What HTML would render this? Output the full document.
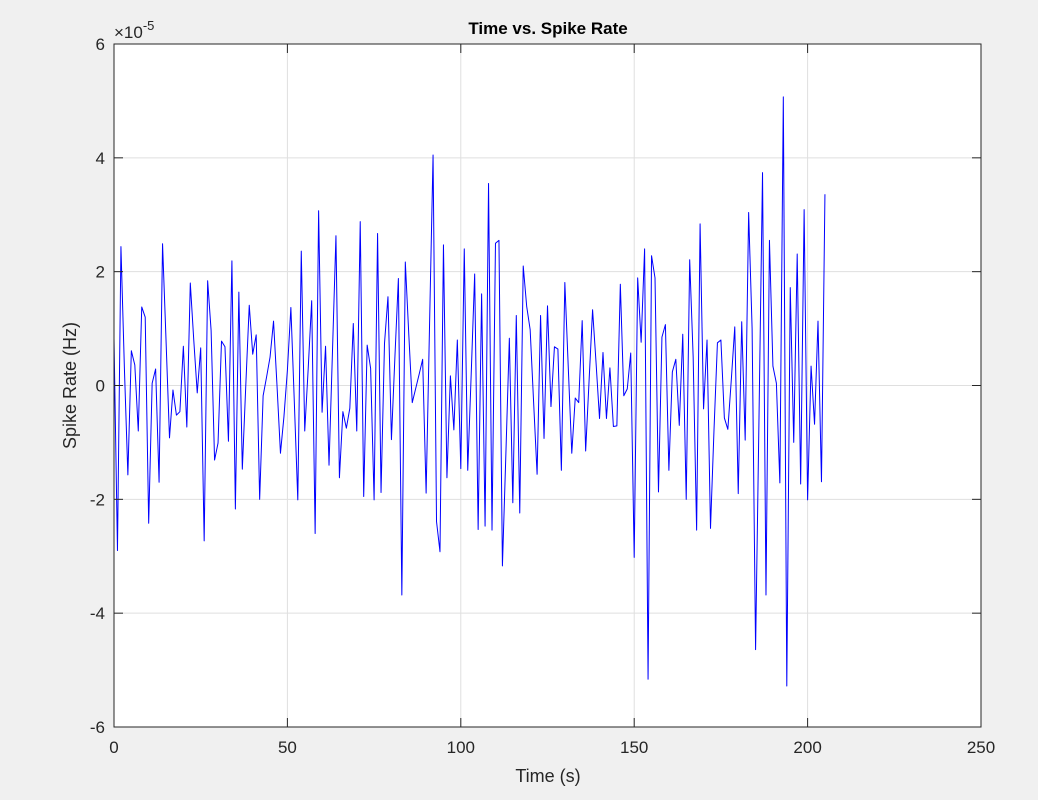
<!DOCTYPE html>
<html><head><meta charset="utf-8"><style>
html,body{margin:0;padding:0;background:#f0f0f0;}
svg{display:block;font-family:"Liberation Sans",sans-serif;}
</style></head><body>
<svg id="chart" width="1038" height="800" viewBox="0 0 1038 800">
<rect x="0" y="0" width="1038" height="800" fill="#f0f0f0"/>
<rect x="114" y="44" width="867" height="683" fill="#ffffff"/>
<g id="grid"></g>
<g id="series"></g>
<rect x="114" y="44" width="867" height="683" fill="none" stroke="#262626" stroke-width="1"/>
<g id="ticks"></g>
<text x="548" y="34" text-anchor="middle" font-size="17" font-weight="bold" fill="#000">Time vs. Spike Rate</text>
<text x="548" y="782" text-anchor="middle" font-size="18" fill="#262626">Time (s)</text>
<text transform="translate(76,385.5) rotate(-90)" text-anchor="middle" font-size="18" fill="#262626">Spike Rate (Hz)</text>
<text x="114" y="38" font-size="17" fill="#262626">×10<tspan dy="-8" font-size="13">-5</tspan></text>
</svg>
<script>
const xTicks = [0, 50, 100, 150, 200, 250];
const yTicks = [-6, -4, -2, 0, 2, 4, 6];
const times = [];
for (let i = 0; i <= 205; i++) times.push(i);
const rates = [
0.83,-2.9,2.44,0.3,-1.57,0.61,0.36,-0.8,1.38,1.2,
-2.42,0.04,0.29,-1.7,2.49,0.8,-0.92,-0.08,-0.52,-0.46,
0.69,-0.73,1.8,0.8,-0.13,0.66,-2.73,1.84,0.97,-1.31,
-1.01,0.78,0.68,-0.98,2.19,-2.17,1.64,-1.47,0,1.41,
0.55,0.89,-2.0,-0.18,0.15,0.5,1.13,0,-1.19,-0.55,
0.27,1.37,-0.3,-2.01,2.36,-0.8,0.3,1.49,-2.6,3.07,
-0.47,0.69,-1.4,0.6,2.63,-1.62,-0.46,-0.75,-0.4,1.09,
-0.8,2.88,-1.95,0.71,0.3,-2.01,2.67,-1.88,0.74,1.56,
-0.95,0.5,1.88,-3.68,2.17,0.9,-0.3,-0.05,0.2,0.46,
-1.89,1.1,4.05,-2.39,-2.92,2.47,-1.62,0.17,-0.78,0.8,
-1.46,2.40,-1.49,0.2,1.96,-2.53,1.61,-2.47,3.55,-2.54,
2.5,2.55,-3.17,-1.2,0.83,-2.06,1.23,-2.24,2.1,1.39,
0.98,-0.3,-1.56,1.23,-0.93,1.4,-0.37,0.68,0.64,-1.49,
1.81,0.3,-1.19,-0.22,-0.3,1.14,-1.15,0.1,1.33,0.4,
-0.58,0.58,-0.58,0.31,-0.72,-0.71,1.78,-0.18,-0.06,0.57,
-3.02,1.89,0.76,2.40,-5.16,2.28,1.89,-1.87,0.85,1.07,
-1.49,0.24,0.46,-0.70,0.90,-2.0,2.21,0.5,-2.54,2.84,
-0.41,0.80,-2.51,-0.8,0.75,0.80,-0.57,-0.77,0.1,1.03,
-1.9,1.12,-0.96,3.04,1.0,-4.64,-0.5,3.74,-3.68,2.55,
0.34,0.04,-1.71,5.07,-5.28,1.72,-1.0,2.31,-1.73,3.09,
-2.01,0.34,-0.68,1.13,-1.69,3.36
];
const X0 = 114, X1 = 981, Y0 = 727, Y1 = 44;
function xs(v){ return X0 + (v - 0) / 250 * (X1 - X0); }
function ys(v){ return Y0 - (v + 6) / 12 * (Y0 - Y1); }
const NS = "http://www.w3.org/2000/svg";
const grid = document.getElementById('grid');
const ticks = document.getElementById('ticks');
xTicks.forEach(function(t){
  const x = xs(t);
  const g = document.createElementNS(NS,'line');
  
  
  g.setAttribute('x1',x);g.setAttribute('x2',x);g.setAttribute('y1',Y1);g.setAttribute('y2',Y0);
  g.setAttribute('stroke','#dfdfdf');g.setAttribute('stroke-width','1');
  grid.appendChild(g);
  [[Y0,Y0-9],[Y1,Y1+9]].forEach(function(p){
    const tk = document.createElementNS(NS,'line');
    
    
    tk.setAttribute('x1',x);tk.setAttribute('x2',x);tk.setAttribute('y1',p[0]);tk.setAttribute('y2',p[1]);
    tk.setAttribute('stroke','#262626');
    ticks.appendChild(tk);
  });
  const lb = document.createElementNS(NS,'text');
  
  
  lb.setAttribute('x',x);lb.setAttribute('y',753);lb.setAttribute('text-anchor','middle');
  lb.setAttribute('font-size','17');lb.setAttribute('fill','#262626');
  lb.textContent = t;
  ticks.appendChild(lb);
});
yTicks.forEach(function(t){
  const y = ys(t);
  const g = document.createElementNS(NS,'line');
  
  
  g.setAttribute('x1',X0);g.setAttribute('x2',X1);g.setAttribute('y1',y);g.setAttribute('y2',y);
  g.setAttribute('stroke','#dfdfdf');g.setAttribute('stroke-width','1');
  grid.appendChild(g);
  [[X0,X0+9],[X1,X1-9]].forEach(function(p){
    const tk = document.createElementNS(NS,'line');
    
    
    tk.setAttribute('x1',p[0]);tk.setAttribute('x2',p[1]);tk.setAttribute('y1',y);tk.setAttribute('y2',y);
    tk.setAttribute('stroke','#262626');
    ticks.appendChild(tk);
  });
  const lb = document.createElementNS(NS,'text');
  
  
  lb.setAttribute('x',105);lb.setAttribute('y',y+6);lb.setAttribute('text-anchor','end');
  lb.setAttribute('font-size','17');lb.setAttribute('fill','#262626');
  lb.textContent = t;
  ticks.appendChild(lb);
});
const pts = times.map(function(t,i){ return xs(t).toFixed(2)+','+ys(rates[i]).toFixed(2); }).join(' ');
const pl = document.createElementNS(NS,'polyline');


pl.setAttribute('points',pts);
pl.setAttribute('fill','none');pl.setAttribute('stroke','#0000ff');pl.setAttribute('stroke-width','1');
pl.setAttribute('stroke-linejoin','round');
document.getElementById('series').appendChild(pl);
</script>
</body></html>
